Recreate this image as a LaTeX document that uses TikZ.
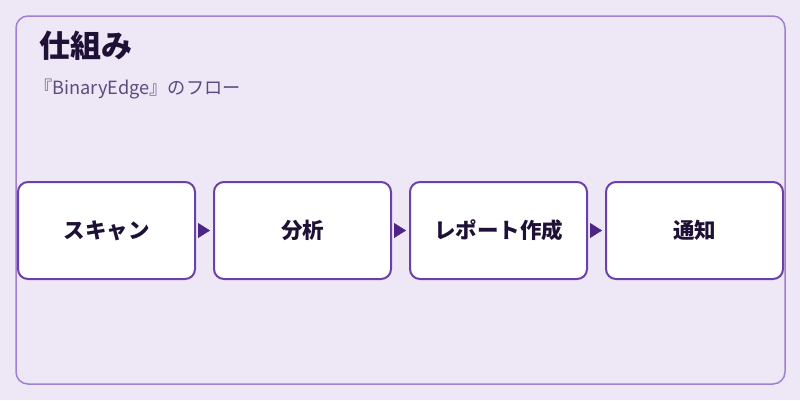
\documentclass[tikz,border=0pt]{standalone}
\usepackage{fontspec}
\setmainfont{Noto Sans CJK JP}
\usetikzlibrary{positioning, arrows.meta}

\definecolor{bgc}{HTML}{EEE7F6}
\definecolor{framec}{HTML}{9F80D2}
\definecolor{boxc}{HTML}{6B40A8}
\definecolor{arrowc}{HTML}{4D2685}
\definecolor{titlec}{HTML}{1F1035}
\definecolor{subc}{HTML}{5B4B7E}

\tikzset{
	stepbox/.style={draw=boxc, line width=2pt, fill=white, rounded corners=10pt,
		minimum width=177pt, minimum height=97pt, inner sep=0pt,
		font=\fontsize{21.5}{24}\selectfont\bfseries, text=titlec},
	flowarrow/.style={-{Triangle[length=12pt, width=15pt]}, draw=arrowc, fill=arrowc,
		shorten <=2pt, shorten >=3pt}
}

\begin{document}
\begin{tikzpicture}[x=1pt, y=-1pt]
		\fill[bgc]	(0, 0) rectangle (800, 400);
		\useasboundingbox	(0, 0) rectangle (800, 400);
		\draw[framec, line width=1.5pt, rounded corners=12pt]	(16, 16) rectangle (785, 384);

		\node[anchor=west, text=titlec, font=\fontsize{31}{35}\selectfont\bfseries, inner sep=0pt] (title) at (39, 46) {仕組み};
		\node[anchor=west, text=subc, font=\fontsize{18.2}{22}\selectfont, inner sep=0pt] (sub) at (34, 89) {『BinaryEdge』のフロー};

		\node[stepbox] (scan) at (106.5, 230.5) {スキャン};
		\node[stepbox, right=17pt of scan] (analyze) {分析};
		\node[stepbox, right=17pt of analyze] (report) {レポート作成};
		\node[stepbox, right=17pt of report] (notify) {通知};

		\draw[flowarrow]	(scan.east) to (analyze.west);
		\draw[flowarrow]	(analyze.east) to (report.west);
		\draw[flowarrow]	(report.east) to (notify.west);
	\end{tikzpicture}
\end{document}
